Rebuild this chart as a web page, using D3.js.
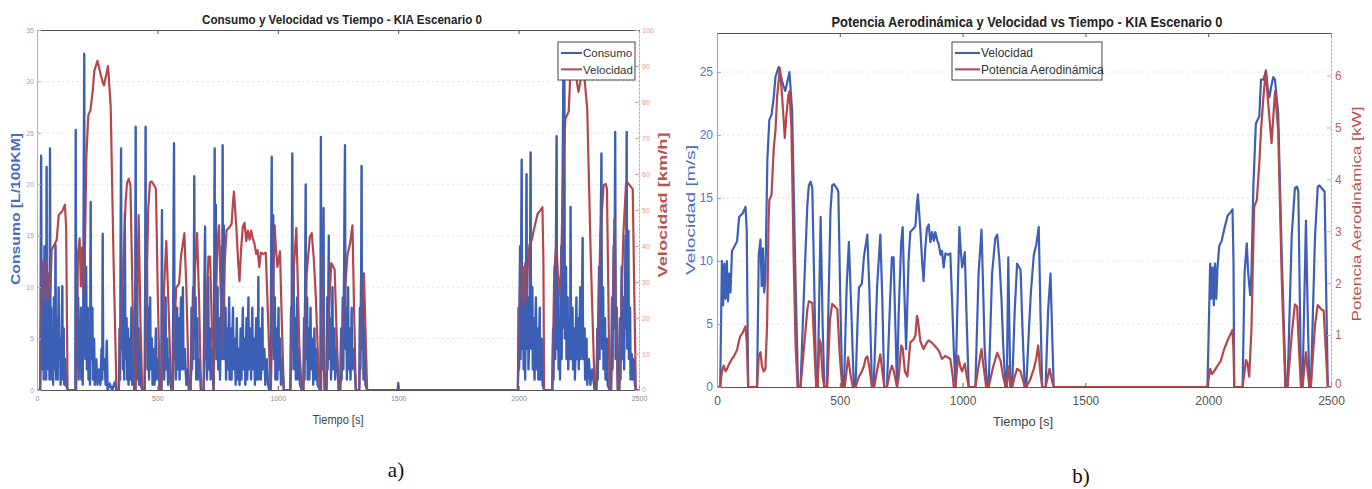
<!DOCTYPE html>
<html><head><meta charset="utf-8">
<script src="https://cdn.jsdelivr.net/npm/d3@7"></script>
<style>
html,body{margin:0;padding:0;background:#fff;}
svg{display:block;}
</style></head><body>
<svg id="chart" width="1372" height="489" font-family="'Liberation Sans', Arial, sans-serif"></svg>
<script>
// ---------------- DATA ----------------
const timeTicks = [0, 500, 1000, 1500, 2000, 2500];
const consumoTicks = [0, 5, 10, 15, 20, 25, 30, 35];
const velKmhTicks = [0, 10, 20, 30, 40, 50, 60, 70, 80, 90, 100];
const velMsTicks = [0, 5, 10, 15, 20, 25];
const potTicks = [0, 1, 2, 3, 4, 5, 6];

const titleA = "Consumo y Velocidad vs Tiempo - KIA Escenario 0";
const titleB = "Potencia Aerodinámica y Velocidad vs Tiempo - KIA Escenario 0";
const legendA = ["Consumo", "Velocidad"];
const legendB = ["Velocidad", "Potencia Aerodinámica"];

// velocity [t (s), v (m/s)]
const velocidad = [
[0,0],[13,0],[20,10],[25,6.5],[30,9.8],[35,7],[40,10],[45,6.8],[50,9],[55,7.5],[61,10.8],[72,11.2],[82,11.6],[90,13.5],[105,13.8],[116,14.3],[121,12.5],[127,0],
[163,0],[170,10.5],[177,11.7],[182,8],[187,11],[192,7.5],[197,8.5],[205,18],[213,21.2],[222,21.6],[231,23],[238,24.6],[251,25.4],[265,24.3],[272,23.8],[278,23.5],[286,24.2],[295,25],[306,21.9],[318,10],[330,0],
[340,0],[355,8],[368,14.5],[374,16],[381,16.3],[388,15.8],[396,8],[404,0],
[410,0],[422,13.5],[430,5],[437,0],
[447,0],[462,14],[469,16],[476,16.1],[490,15.7],[494,15.5],[502,7],[510,0],
[517,0],[528,8],[537,11.5],[547,6],[557,0],
[564,0],[572,5],[578,7.9],[590,8.2],[598,10.3],[612,12.1],[620,8],[631,0],
[638,0],[652,8],[665,12.1],[673,7],[681,0],
[692,0],[705,7],[712,10.3],[719,10.3],[726,5],[733,0],
[740,6],[750,11.5],[756,12.7],[762,8],[770,3],[780,10],[787,12.3],[801,12.6],[808,12.8],[814,14.5],[818,15.3],[828,12.5],[835,10],[841,8.4],[848,11],[855,12.6],[862,12.9],[869,11.5],[876,12.3],[883,11.6],[889,12.3],[896,11.7],[903,11.3],[910,10.5],[916,10.8],[923,9.5],[930,10.6],[940,10.5],[950,10.6],[957,7],[964,3],[971,0],
[982,9],[987,12.7],[992,11],[998,9.5],[1003,10],[1009,10.7],[1017,5],[1025,0],
[1052,0],[1065,9],[1077,12.5],[1082,9],[1090,3],[1100,0],
[1106,0],[1120,9],[1133,11.8],[1141,12.1],[1150,10],[1158,7.1],[1166,3],[1175,0],
[1180,0],[1186,10.3],[1192,3],[1195,0],
[1202,0],[1212,6],[1222,9.8],[1236,9.3],[1245,4],[1253,0],
[1259,0],[1270,4.5],[1278,7.5],[1290,10.5],[1300,11.3],[1310,12.7],[1317,6],[1324,0],
[1338,0],[1348,6],[1358,9],[1365,4],[1371,0],
[1997,0],[2008,9.8],[2013,7],[2018,9.5],[2023,6.5],[2028,9.8],[2033,7],[2038,9.5],[2045,11.2],[2055,11.6],[2065,12.5],[2079,13.6],[2092,13.9],[2099,14.1],[2103,10],[2106,0],
[2140,0],[2148,9],[2157,11.4],[2163,9],[2171,7.3],[2176,9],[2184,16],[2194,20.9],[2201,21.2],[2208,21.5],[2215,24.4],[2225,24.4],[2235,25.1],[2243,23.6],[2249,23],[2258,24],[2265,24.6],[2272,24.4],[2285,21.7],[2300,10],[2316,0],
[2323,0],[2340,12],[2353,15.8],[2362,15.9],[2367,15.5],[2373,7],[2378,0],
[2384,0],[2398,13.2],[2405,6],[2412,0],
[2418,0],[2435,12],[2446,15.9],[2453,16.0],[2470,15.6],[2474,15.5],[2480,8],[2487,0],[2500,0]
];

// aerodynamic power [t (s), P (kW)]
const potencia = [
[0,0],[13,0],[20,0.3],[27,0.41],[35,0.3],[41,0.35],[50,0.45],[61,0.54],[70,0.6],[82,0.72],[90,0.9],[95,0.98],[105,1.05],[116,1.17],[121,0.9],[127,0],
[163,0],[170,0.6],[177,0.67],[183,0.4],[190,0.3],[197,0.35],[204,1.2],[210,3.2],[213,3.6],[222,3.7],[231,4.6],[238,4.94],[245,5.6],[256,6.15],[265,5.6],[272,5.1],[276,4.8],[282,5.2],[290,5.6],[295,5.7],[303,5.0],[312,2.5],[320,0.8],[328,0],
[340,0],[355,0.8],[368,1.5],[374,1.65],[388,1.62],[396,0.8],[404,0],
[410,0],[417,0.92],[422,0.85],[430,0.2],[437,0],
[449,0],[460,1.3],[469,1.6],[480,1.55],[490,1.5],[500,0.6],[510,0],
[520,0],[534,0.57],[545,0.2],[553,0],
[564,0],[578,0.2],[590,0.3],[598,0.4],[605,0.55],[612,0.59],[620,0.4],[631,0],
[640,0],[655,0.4],[665,0.63],[673,0.3],[681,0],
[692,0],[705,0.3],[712,0.41],[720,0.3],[733,0],
[740,0.2],[750,0.8],[756,0.75],[765,0.3],[775,0.2],[787,0.86],[801,0.92],[808,1.0],[814,1.37],[818,1.3],[828,0.88],[841,0.73],[855,0.86],[862,0.9],[876,0.85],[889,0.78],[903,0.7],[916,0.54],[930,0.6],[950,0.54],[960,0.2],[964,0],
[971,0],[982,0.6],[990,0.4],[998,0.3],[1009,0.45],[1017,0.2],[1025,0],
[1052,0],[1065,0.4],[1077,0.73],[1085,0.4],[1096,0],
[1106,0],[1125,0.4],[1141,0.66],[1155,0.5],[1165,0.2],[1175,0],
[1180,0],[1186,0.4],[1195,0],
[1202,0],[1212,0.2],[1222,0.35],[1236,0.3],[1253,0],
[1259,0],[1276,0.15],[1290,0.35],[1300,0.55],[1308,0.8],[1316,0.3],[1324,0],
[1338,0],[1354,0.35],[1365,0.1],[1371,0],
[1997,0],[2008,0.35],[2015,0.25],[2024,0.3],[2038,0.41],[2051,0.5],[2065,0.73],[2081,0.92],[2099,1.1],[2103,0.7],[2106,0],
[2140,0],[2148,0.3],[2154,0.52],[2160,0.45],[2167,0.2],[2176,1.1],[2187,3.47],[2198,3.6],[2208,4.3],[2215,4.94],[2225,5.6],[2235,6.1],[2242,5.6],[2249,5.2],[2258,4.7],[2265,5.2],[2272,5.7],[2285,4.94],[2300,2.0],[2314,0],
[2323,0],[2340,1.0],[2353,1.59],[2362,1.55],[2372,0.5],[2378,0],
[2384,0],[2398,0.67],[2405,0.3],[2412,0],
[2418,0],[2435,1.2],[2446,1.58],[2460,1.5],[2470,1.47],[2480,0.6],[2487,0],[2500,0]
];

// fuel consumption [t (s), L/100km]
const consumo = [
[0,0],[13,0],[15,8],[17,22.8],[19,4],[21,12],[23,2],[26,9],[28,1],[31,14],[33,3],[36,7],[38,1],[40,21.7],[42,4],[45,10],[47,2],[50,6],[52,1],[54,23.5],[56,3],[59,8],[61,1],[64,5],[67,0.5],[70,9],[72,2],[75,6],[77,14.1],[79,1],[83,7],[86,1],[90,10],[92,3],[96,5],[98,0.5],[101,4],[105,10.1],[107,1],[111,6],[113,0.5],[117,3],[121,0.5],[127,0],
[159,0],[161,25.3],[163,2],[166,12],[168,4],[171,9],[173,1],[176,6],[178,2],[182,8],[184,1],[188,5],[190,0.5],[193,12],[196,32.7],[198,4],[201,3],[204,12],[207,2],[211,8],[214,1],[218,5],[220,0.5],[223,18.3],[225,3],[230,8],[232,1],[237,5],[240,0.5],[246,3],[251,0.5],[257,2],[263,0.5],[268,4],[271,1],[273,15.2],[275,2],[280,3],[285,0.5],[290,4.8],[293,0],[302,0.6],[312,0],[322,0.7],[330,0],
[340,0],[343,6],[345,1],[349,23.5],[351,4],[355,10],[357,2],[360,9],[362,1],[365,17.2],[367,3],[372,7],[374,1],[378,6],[380,0.5],[385,5],[388,1],[392,8],[395,0.5],[400,3],[404,0],
[406,0],[408,9],[410,25.6],[412,3],[416,10],[418,1],[422,6],[424,0.5],[428,4],[431,0.5],[437,0],
[447,0],[449,10],[451,25.6],[453,5],[457,12],[459,2],[463,8],[465,1],[470,9],[472,2],[477,5],[480,0.5],[485,4],[488,0.5],[494,6],[497,1],[502,3],[510,0],
[516,0],[519,17.5],[521,3],[526,7],[528,1],[534,9],[536,2],[541,5],[544,0.5],[550,3],[557,0],
[563,0],[566,10],[569,24],[571,3],[575,6],[577,1],[582,8],[584,2],[590,7],[592,1],[598,9],[600,2],[606,10],[608,2],[614,4],[620,0.5],[626,2],[631,0],
[638,0],[642,8],[644,2],[648,10],[650,3],[653,20.8],[655,5],[659,9],[661,1],[666,7],[668,1],[674,3],[681,0],
[692,0],[695,9],[698,15.9],[700,3],[704,8],[706,1],[711,11],[713,2],[718,6],[721,1],[727,4],[733,0],
[735,8],[738,23.5],[740,4],[743,18],[745,3],[750,10],[752,2],[757,7],[760,1],[765,9],[767,14],[769,3],[771,23.8],[773,5],[776,16],[778,3],[783,8],[785,1],[790,6],[793,2],[798,9],[800,1],[806,6],[808,1],[814,8],[816,2],[822,5],[825,0.5],[830,7],[833,1],[838,4],[841,0.5],[846,6],[849,1],[855,8],[857,2],[862,5],[865,0.5],[870,7],[873,1],[878,9],[880,2],[886,6],[889,1],[894,8],[896,2],[902,5],[905,0.5],[910,7],[913,1],[917,4],[919,11],[921,1],[927,6],[930,1],[936,8],[938,2],[944,4],[948,0.5],[954,3],[960,0.5],[964,0],
[970,0],[972,12],[975,22.7],[977,4],[981,17],[983,3],[988,9],[990,1],[995,6],[998,1],[1003,8],[1005,2],[1010,5],[1013,0.5],[1018,3],[1025,0],
[1052,0],[1055,8],[1057,2],[1060,23],[1062,4],[1066,12],[1068,2],[1073,7],[1075,1],[1080,9],[1082,1],[1088,4],[1092,0.5],[1100,0],
[1106,0],[1109,7],[1111,1],[1116,20],[1118,3],[1122,9],[1124,1],[1129,6],[1131,1],[1136,8],[1138,2],[1144,5],[1147,0.5],[1152,6],[1155,1],[1160,4],[1165,0.5],[1175,0],
[1177,0],[1179,24.6],[1181,3],[1184,12],[1186,2],[1190,17.7],[1192,2],[1195,0],
[1202,0],[1205,9],[1207,2],[1212,15],[1214,3],[1219,7],[1221,1],[1227,10],[1229,2],[1235,6],[1238,1],[1244,4],[1253,0],
[1259,0],[1263,6],[1265,1],[1270,9],[1272,2],[1276,14],[1279,23.8],[1281,4],[1285,8],[1287,1],[1292,10],[1294,2],[1299,6],[1302,1],[1307,8],[1309,2],[1315,4],[1324,0],
[1338,0],[1341,8],[1343,2],[1346,12],[1348,21.8],[1350,4],[1354,9],[1356,1],[1361,6],[1364,0.5],[1371,0],
[1498,0],[1500,0.7],[1502,0],
[1997,0],[2000,8],[2002,2],[2006,14],[2008,3],[2010,12],[2013,22.4],[2015,4],[2019,10],[2021,2],[2025,8],[2027,1],[2031,12],[2033,21],[2035,4],[2039,9],[2041,2],[2045,6],[2048,15],[2050,23.1],[2052,4],[2057,10],[2059,2],[2064,7],[2066,1],[2072,9],[2074,2],[2080,6],[2082,1],[2088,8],[2090,1],[2096,5],[2100,0.5],[2106,0],
[2140,0],[2143,6],[2145,1],[2150,12],[2152,3],[2156,18],[2158,24.7],[2160,4],[2164,10],[2166,2],[2170,7],[2172,1],[2177,14],[2179,3],[2183,20],[2186,33],[2188,6],[2190,31],[2192,5],[2197,12],[2199,3],[2204,9],[2206,2],[2211,7],[2214,3],[2216,17.8],[2218,3],[2224,8],[2226,2],[2232,6],[2234,1],[2240,9],[2242,3],[2248,7],[2250,2],[2256,10],[2258,3],[2263,8],[2266,14.8],[2268,3],[2274,6],[2276,1],[2282,5],[2285,0.5],[2292,3],[2298,0.5],[2305,2],[2316,0],
[2323,0],[2327,6],[2329,1],[2334,12],[2336,3],[2341,16],[2344,23],[2346,4],[2351,10],[2353,2],[2359,7],[2361,1],[2367,5],[2370,0.5],[2378,0],
[2384,0],[2388,9],[2390,2],[2395,14],[2398,6],[2401,25.1],[2403,3],[2408,8],[2412,0],
[2418,0],[2421,7],[2423,1],[2428,12],[2430,3],[2436,9],[2438,2],[2444,15],[2446,6],[2449,25.1],[2451,4],[2456,15.5],[2458,3],[2463,8],[2465,1],[2470,3.5],[2474,1],[2478,3],[2483,0.5],[2487,0],[2500,0]
];

// ---------------- DRAW ----------------
const BLUE = "#3d5fb6", RED = "#b4474b";
const svg = d3.select("#chart");
const fmt = d3.format("d");

function drawPanel(o) {
  const g = svg.append("g");
  const [x0, x1] = o.x.range();
  const [yb, yt] = o.yL.range();
  // faint grid
  g.append("g").selectAll("line").data(o.gridVals).join("line")
    .attr("x1", x0).attr("x2", x1)
    .attr("y1", d => o.yL(d)).attr("y2", d => o.yL(d))
    .attr("stroke", "#e2e2e2").attr("stroke-width", 1).attr("stroke-dasharray", "2,3");
  // clip
  const cid = "clip" + o.id;
  svg.append("clipPath").attr("id", cid).append("rect")
    .attr("x", x0).attr("y", yt).attr("width", x1 - x0).attr("height", yb - yt);
  // lines
  const lineL = d3.line().x(d => o.x(d[0])).y(d => o.yL(d[1]));
  const lineR = d3.line().x(d => o.x(d[0])).y(d => o.yR(d[1] * o.rScale));
  g.append("path").datum(o.left).attr("d", lineL).attr("clip-path", `url(#${cid})`)
    .attr("fill", "none").attr("stroke", BLUE).attr("stroke-width", o.lw).attr("stroke-linejoin", "round");
  g.append("path").datum(o.right).attr("d", lineR).attr("clip-path", `url(#${cid})`)
    .attr("fill", "none").attr("stroke", RED).attr("stroke-width", o.lw).attr("stroke-linejoin", "round");
  if (o.leftOnTop) {
    g.append("path").datum(o.left).attr("d", lineL).attr("clip-path", `url(#${cid})`)
      .attr("fill", "none").attr("stroke", BLUE).attr("stroke-width", o.lw).attr("stroke-opacity", 0.55);
  }
  // axes
  const fs = o.fs;
  const ax = g.append("g").attr("transform", `translate(0,${yb})`)
    .call(d3.axisBottom(o.x).tickValues(timeTicks).tickFormat(fmt).tickSizeInner(-4).tickSizeOuter(0).tickPadding(o.xPad));
  ax.select(".domain").attr("stroke", "#555");
  ax.selectAll(".tick line").attr("stroke", "#555");
  ax.selectAll("text").attr("font-size", fs).attr("fill", o.xTickColor).attr("font-family", o.tickFont);
  const at = g.append("g").attr("transform", `translate(0,${yt})`)
    .call(d3.axisTop(o.x).tickValues(timeTicks).tickSizeInner(-4).tickSizeOuter(0).tickFormat(""));
  at.select(".domain").attr("stroke", "#555");
  at.selectAll(".tick line").attr("stroke", "#555");
  const al = g.append("g").attr("transform", `translate(${x0},0)`)
    .call(d3.axisLeft(o.yL).tickValues(o.lTicks).tickFormat(fmt).tickSizeInner(-4).tickSizeOuter(0).tickPadding(o.yPad));
  al.select(".domain").attr("stroke", o.lAxisColor);
  al.selectAll(".tick line").attr("stroke", o.lAxisColor);
  al.selectAll("text").attr("font-size", fs).attr("fill", o.lTickColor).attr("font-family", o.tickFont);
  const ar = g.append("g").attr("transform", `translate(${x1},0)`)
    .call(d3.axisRight(o.yR).tickValues(o.rTicks).tickFormat(fmt).tickSizeInner(-4).tickSizeOuter(0).tickPadding(o.yPad));
  ar.select(".domain").attr("stroke", o.rAxisColor).attr("stroke-dasharray", "3,1");
  ar.selectAll(".tick line").attr("stroke", o.rAxisColor);
  ar.selectAll("text").attr("font-size", fs).attr("fill", o.rTickColor).attr("font-family", o.tickFont);
  ar.selectAll(".tick").filter(d => d === 0).select("text").attr("dy", o.zeroDy);
  // title
  g.append("text").attr("x", o.title.x).attr("y", o.title.y).attr("text-anchor", "middle")
    .attr("font-size", o.title.fs).attr("font-weight", "bold").attr("fill", "#222")
    .attr("font-family", "'Liberation Sans Narrow','Liberation Sans',Arial,sans-serif")
    .attr("textLength", o.title.len).attr("lengthAdjust", "spacingAndGlyphs").text(o.title.text);
  // axis labels
  g.append("text").attr("x", o.xLab.x).attr("y", o.xLab.y).attr("text-anchor", "middle")
    .attr("font-size", o.xLab.fs).attr("fill", "#444").attr("textLength", o.xLab.len)
    .attr("lengthAdjust", "spacingAndGlyphs").text("Tiempo [s]");
  g.append("text").attr("transform", `translate(${o.lLab.x},${o.lLab.y}) rotate(-90)`)
    .attr("text-anchor", "middle").attr("font-size", o.lLab.fs).attr("fill", o.lLab.color)
    .attr("font-weight", o.lLab.fw || "normal")
    .attr("textLength", o.lLab.len).attr("lengthAdjust", "spacingAndGlyphs").text(o.lLab.text);
  g.append("text").attr("transform", `translate(${o.rLab.x},${o.rLab.y}) rotate(-90)`)
    .attr("text-anchor", "middle").attr("font-size", o.rLab.fs).attr("fill", o.rLab.color)
    .attr("font-weight", o.rLab.fw || "normal")
    .attr("textLength", o.rLab.len).attr("lengthAdjust", "spacingAndGlyphs").text(o.rLab.text);
  // legend
  const L = o.legend;
  const lg = g.append("g");
  lg.append("rect").attr("x", L.x).attr("y", L.y).attr("width", L.w).attr("height", L.h)
    .attr("fill", "#fff").attr("stroke", "#444").attr("stroke-width", 1);
  L.items.forEach((name, i) => {
    const yy = L.y + L.h * (i === 0 ? 0.29 : 0.72);
    lg.append("line").attr("x1", L.x + 3).attr("x2", L.x + L.lineLen).attr("y1", yy).attr("y2", yy)
      .attr("stroke", i === 0 ? BLUE : RED).attr("stroke-width", 2);
    lg.append("text").attr("x", L.x + L.lineLen + 1).attr("y", yy + L.fs * 0.36)
      .attr("font-size", L.fs).attr("fill", "#333").text(name);
  });
  // caption
  g.append("text").attr("x", o.cap.x).attr("y", o.cap.y).attr("text-anchor", "middle")
    .attr("font-size", 21).attr("font-family", "'Liberation Serif','DejaVu Serif',serif")
    .attr("fill", "#111").text(o.cap.text);
}

// Panel a
drawPanel({
  id: "A",
  x: d3.scaleLinear().domain([0, 2500]).range([37, 639]),
  yL: d3.scaleLinear().domain([0, 35]).range([390, 30]),
  yR: d3.scaleLinear().domain([0, 100]).range([390, 30]),
  gridVals: [5, 10, 15, 20, 25, 30],
  left: consumo, right: velocidad, rScale: 3.6, lw: 2.2, leftOnTop: true,
  lTicks: consumoTicks, rTicks: velKmhTicks, fs: 7, xPad: 6, yPad: 3, zeroDy: "0.2em",
  tickFont: "'Liberation Sans Narrow','Liberation Sans',sans-serif",
  xTickColor: "#8a8a8a", lTickColor: "#8ea6dc", rTickColor: "#dc9a9a",
  lAxisColor: "#9db3e6", rAxisColor: "#e0a0a0",
  title: { text: titleA, x: 342, y: 24, fs: 12, len: 280 },
  xLab: { x: 338, y: 424, fs: 13, len: 51 },
  lLab: { text: "Consumo [L/100KM]", x: 20, y: 209, fs: 13, len: 152, color: "#4a6cc4", fw: "bold" },
  rLab: { text: "Velocidad [km/h]", x: 667, y: 205, fs: 13, len: 145, color: "#b85454", fw: "bold" },
  legend: { x: 558, y: 42, w: 77, h: 38, lineLen: 24, fs: 11.5, items: legendA },
  cap: { text: "a)", x: 396, y: 477 }
});

// Panel b
drawPanel({
  id: "B",
  x: d3.scaleLinear().domain([0, 2500]).range([717, 1331]),
  yL: d3.scaleLinear().domain([0, 28.1]).range([387, 33]),
  yR: d3.scaleLinear().domain([0, 6.82]).range([387, 33]),
  gridVals: [5, 10, 15, 20, 25],
  left: velocidad, right: potencia, rScale: 1, lw: 2.2, leftOnTop: false,
  lTicks: velMsTicks, rTicks: potTicks, fs: 12, xPad: 9, yPad: 4, zeroDy: "0.05em",
  tickFont: "'Liberation Sans','DejaVu Sans',sans-serif",
  xTickColor: "#555", lTickColor: "#5274c6", rTickColor: "#c0605a",
  lAxisColor: "#8aa4e0", rAxisColor: "#dca0a0",
  title: { text: titleB, x: 1027, y: 27, fs: 14, len: 391 },
  xLab: { x: 1023, y: 426, fs: 13.5, len: 60 },
  lLab: { text: "Velocidad [m/s]", x: 695, y: 210, fs: 13.5, len: 130, color: "#4a6cc4" },
  rLab: { text: "Potencia Aerodinámica [kW]", x: 1361, y: 214, fs: 13.5, len: 215, color: "#c0504d" },
  legend: { x: 952, y: 42, w: 150, h: 38, lineLen: 28, fs: 12, items: legendB },
  cap: { text: "b)", x: 1081, y: 483 }
});
</script>
</body></html>
